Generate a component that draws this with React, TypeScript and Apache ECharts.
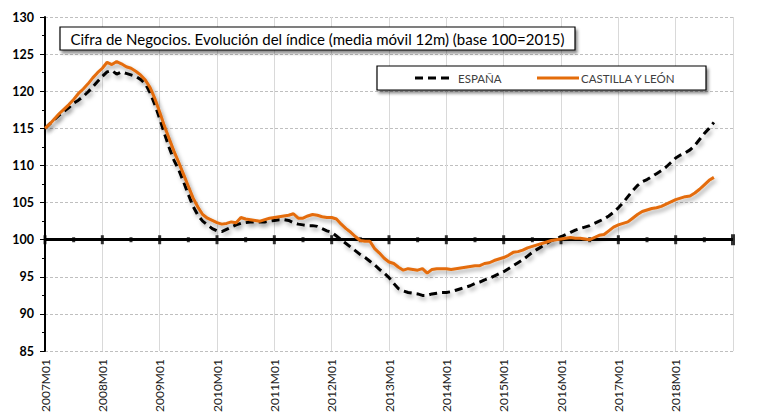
import React, { useEffect, useRef } from "react";
import * as echarts from "echarts";

const TITLE = "Cifra de Negocios. Evolución del índice (media móvil 12m) (base 100=2015)";
const SERIES_ES = "ESPAÑA";
const SERIES_CYL = "CASTILLA Y LEÓN";

const YEARS = [2007, 2008, 2009, 2010, 2011, 2012, 2013, 2014, 2015, 2016, 2017, 2018];
const MONTHS = ["01", "02", "03", "04", "05", "06", "07", "08", "09", "10", "11", "12"];
const categories: string[] = [];
YEARS.forEach((y) => MONTHS.forEach((m) => categories.push(`${y}M${m}`)));
categories.push("2019M01");

const espana = [
  // 2007
  115.0, 115.6, 116.2, 116.8, 117.3, 117.8, 118.4, 118.8, 119.3, 119.9, 120.6, 121.3,
  // 2008
  122.0, 122.6, 122.8, 122.3, 122.6, 122.4, 122.2, 122.0, 121.6, 121.0, 119.8, 118.2,
  // 2009
  116.3, 114.3, 112.4, 110.7, 109.4, 107.8, 106.1, 104.5, 103.3, 102.5, 102.0, 101.5,
  // 2010
  101.2, 101.1, 101.4, 101.7, 102.0, 102.2, 102.3, 102.4, 102.4, 102.4, 102.4, 102.5,
  // 2011
  102.6, 102.7, 102.7, 102.6, 102.3, 102.1, 102.0, 101.9, 101.9, 101.8, 101.5, 101.2,
  // 2012
  101.0, 100.5, 100.0, 99.5, 99.0, 98.5, 98.0, 97.6, 97.1, 96.6, 96.0, 95.5,
  // 2013
  94.9, 94.1, 93.4, 93.1, 92.9, 92.8, 92.7, 92.5, 92.5, 92.7, 92.8, 92.9,
  // 2014
  92.9, 93.0, 93.2, 93.4, 93.6, 93.8, 94.1, 94.3, 94.6, 94.8, 95.1, 95.4,
  // 2015
  95.7, 96.1, 96.5, 96.9, 97.3, 97.8, 98.3, 98.7, 99.1, 99.5, 99.9, 100.1,
  // 2016
  100.4, 100.7, 101.0, 101.3, 101.5, 101.7, 101.9, 102.2, 102.5, 102.8, 103.2, 103.7,
  // 2017
  104.3, 105.0, 105.8, 106.6, 107.3, 107.8, 108.1, 108.5, 108.9, 109.3, 109.8, 110.4,
  // 2018
  111.0, 111.4, 111.7, 112.1, 112.7, 113.5, 114.3, 115.0, 115.8,
];

const castillaLeon = [
  // 2007
  115.0, 115.6, 116.3, 117.0, 117.6, 118.2, 118.9, 119.7, 120.3, 121.0, 121.8, 122.5,
  // 2008
  123.1, 123.9, 123.6, 124.0, 123.7, 123.3, 123.1, 122.7, 122.2, 121.5, 120.5, 119.0,
  // 2009
  117.2, 115.3, 113.6, 111.9, 110.4, 108.8, 107.2, 105.6, 104.4, 103.4, 102.9, 102.6,
  // 2010
  102.3, 102.1, 102.2, 102.4, 102.3, 103.0, 102.8, 102.7, 102.6, 102.5, 102.7, 102.9,
  // 2011
  103.0, 103.1, 103.2, 103.3, 103.5, 102.9, 102.9, 103.2, 103.4, 103.3, 103.1, 103.0,
  // 2012
  103.0, 102.8, 102.1, 101.5, 101.0, 100.4, 99.9, 99.8, 99.8, 98.8, 98.2, 97.5,
  // 2013
  97.0, 96.8, 96.3, 95.9, 96.1, 96.0, 95.9, 96.1, 95.5, 96.0, 96.1, 96.1,
  // 2014
  96.1, 96.0, 96.1, 96.2, 96.3, 96.4, 96.5, 96.5, 96.8, 96.9, 97.2, 97.4,
  // 2015
  97.6, 97.9, 98.3, 98.4, 98.6, 98.9, 99.1, 99.3, 99.5, 99.7, 99.9, 100.0,
  // 2016
  100.1, 100.2, 100.3, 100.2, 100.2, 100.1, 100.0, 100.3, 100.6, 100.7, 101.2, 101.7,
  // 2017
  102.0, 102.2, 102.4, 102.9, 103.4, 103.8, 104.0, 104.2, 104.3, 104.5, 104.8, 105.1,
  // 2018
  105.4, 105.6, 105.8, 105.9, 106.3, 106.8, 107.4, 108.0, 108.4,
];

const Y_MIN = 85;
const Y_MAX = 130;
const Y_STEP = 5;
const BASE = 100;

const COLOR_ES = "#000000";
const COLOR_CYL = "#E46C0A";

export default function App() {
  const ref = useRef<HTMLDivElement>(null);

  useEffect(() => {
    if (!ref.current) return;
    const chart = echarts.init(ref.current, null, { renderer: "svg" });

    const baseTicks = categories
      .map((c, i) => i)
      .filter((i) => i % 6 === 0)
      .map((i) => [i, BASE]);

    const lineShadow = {
      shadowColor: "rgba(0,0,0,0.35)",
      shadowBlur: 4,
      shadowOffsetX: 2,
      shadowOffsetY: 3,
    };

    const boxStyle = {
      fill: "#ffffff",
      stroke: "#000",
      lineWidth: 1.2,
      shadowColor: "rgba(0,0,0,0.45)",
      shadowBlur: 3,
      shadowOffsetX: 2,
      shadowOffsetY: 3,
    };

    chart.setOption({
      animation: false,
      backgroundColor: "#ffffff",
      textStyle: { fontFamily: "Lato" },
      grid: { left: 45, right: 30, top: 17, bottom: 63, containLabel: false },
      legend: { show: false },
      graphic: [
        // title box
        { type: "rect", shape: { x: 60, y: 27, width: 515, height: 23 }, style: boxStyle, z: 100 },
        {
          type: "text",
          x: 317.5,
          y: 39,
          style: {
            text: TITLE,
            fontSize: 15,
            fontFamily: "Lato",
            fill: "#000",
            align: "center",
            verticalAlign: "middle",
          },
          z: 101,
        },
        // legend box
        { type: "rect", shape: { x: 377, y: 66, width: 329, height: 24 }, style: boxStyle, z: 100 },
        {
          type: "line",
          shape: { x1: 415, y1: 78, x2: 449, y2: 78 },
          style: { stroke: COLOR_ES, lineWidth: 3, lineDash: [8, 5] },
          z: 101,
        },
        {
          type: "text",
          x: 458,
          y: 78.5,
          style: { text: SERIES_ES, fontSize: 11.5, fontFamily: "Lato", fill: "#404040", verticalAlign: "middle" },
          z: 101,
        },
        {
          type: "line",
          shape: { x1: 537, y1: 78, x2: 579, y2: 78 },
          style: { stroke: COLOR_CYL, lineWidth: 3 },
          z: 101,
        },
        {
          type: "text",
          x: 581,
          y: 78.5,
          style: { text: SERIES_CYL, fontSize: 11.5, fontFamily: "Lato", fill: "#404040", verticalAlign: "middle" },
          z: 101,
        },
      ],
      xAxis: {
        type: "category",
        data: categories,
        boundaryGap: false,
        axisLine: { show: false },
        axisTick: { show: false },
        axisLabel: {
          interval: (i: number) => i % 12 === 0 && i < categories.length - 1,
          rotate: 90,
          fontSize: 12,
          color: "#1a1a1a",
          fontFamily: "Lato",
          margin: 8,
        },
        splitLine: {
          show: true,
          interval: (i: number) => i % 12 === 0,
          lineStyle: { color: "#d9d9d9", width: 1 },
        },
      },
      yAxis: {
        type: "value",
        min: Y_MIN,
        max: Y_MAX,
        interval: Y_STEP,
        axisLine: { show: true, lineStyle: { color: "#000", width: 2 } },
        axisTick: { show: true, length: 5, lineStyle: { color: "#000", width: 1 } },
        minorTick: { show: true, splitNumber: 2, length: 3, lineStyle: { color: "#000", width: 1 } },
        minorSplitLine: { show: false },
        axisLabel: { fontWeight: "bold", fontSize: 12.5, color: "#000", margin: 11, fontFamily: "Lato" },
        splitLine: { show: true, lineStyle: { color: "#bfbfbf", type: [3, 2], width: 1 } },
      },
      series: [
        {
          name: "base",
          type: "scatter",
          data: baseTicks,
          symbol: "rect",
          symbolSize: (val: number[]) =>
            val[0] === categories.length - 1 ? [4, 11] : val[0] % 12 === 0 ? [3, 9] : [3, 5],
          itemStyle: { color: "#000" },
          silent: true,
          z: 3,
          markLine: {
            silent: true,
            symbol: "none",
            label: { show: false },
            lineStyle: { color: "#000", width: 3, type: "solid" },
            data: [{ yAxis: BASE }],
            z: 3,
          },
        },
        {
          name: SERIES_ES,
          type: "line",
          data: espana,
          showSymbol: false,
          symbol: "none",
          color: COLOR_ES,
          lineStyle: { color: COLOR_ES, width: 3, type: [8, 5], ...lineShadow },
          z: 5,
        },
        {
          name: SERIES_CYL,
          type: "line",
          data: castillaLeon,
          showSymbol: false,
          symbol: "none",
          color: COLOR_CYL,
          lineStyle: { color: COLOR_CYL, width: 3, type: "solid", ...lineShadow },
          z: 6,
        },
      ],
    });

    return () => chart.dispose();
  }, []);

  return (
    <div
      ref={ref}
      style={{ position: "absolute", left: 0, top: 0, width: 763, height: 415, background: "#fff" }}
    />
  );
}
